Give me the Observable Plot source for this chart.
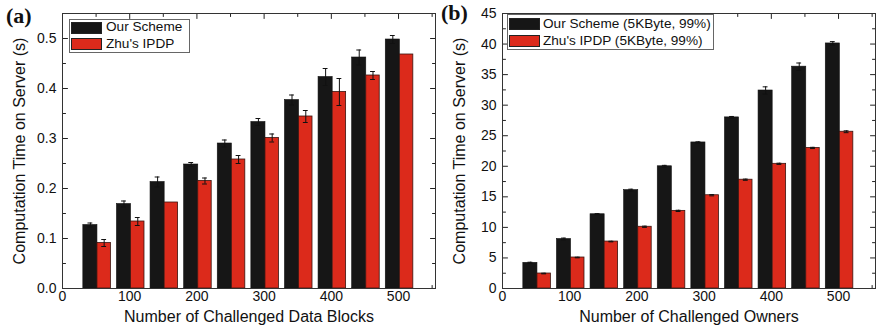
<!DOCTYPE html>
<html><head><meta charset="utf-8">
<script src="https://cdn.jsdelivr.net/npm/d3@7"></script>
<script src="https://cdn.jsdelivr.net/npm/@observablehq/plot@0.6"></script>
<style>
body{margin:0;background:#fff;}
#wrap{position:relative;width:876px;height:333px;display:flex;font-family:"Liberation Sans",Arial,sans-serif;}
.panel{position:relative;}
.tag{position:absolute;z-index:2;font-family:"Liberation Serif","Times New Roman",serif;font-weight:bold;font-size:22px;line-height:22px;color:#111;}
.lbox{position:absolute;border:1px solid #666;background:#fff;box-sizing:border-box;}
.sw{position:absolute;box-sizing:border-box;border:1px solid #222;}
.lt{position:absolute;font-size:13.6px;line-height:16px;color:#111;white-space:nowrap;}
</style></head>
<body><div id="wrap"></div>
<script>
// ---- data ----
const xs = [50, 100, 150, 200, 250, 300, 350, 400, 450, 500];
const oursA    = [0.127, 0.169, 0.213, 0.248, 0.290, 0.333, 0.377, 0.423, 0.462, 0.498];
const oursAErr = [0.004, 0.006, 0.010, 0.004, 0.007, 0.007, 0.010, 0.017, 0.015, 0.008];
const zhuA     = [0.091, 0.134, 0.172, 0.215, 0.258, 0.301, 0.344, 0.393, 0.426, 0.468];
const zhuAErr  = [0.007, 0.008, 0.000, 0.006, 0.008, 0.008, 0.012, 0.027, 0.008, 0.000];
const oursB    = [4.2, 8.1, 12.15, 16.1, 20.0, 23.9, 28.0, 32.4, 36.3, 40.1];
const oursBErr = [0.1, 0.15, 0.1, 0.15, 0.15, 0.1, 0.15, 0.6, 0.6, 0.3];
const zhuB     = [2.45, 5.07, 7.68, 10.1, 12.7, 15.26, 17.8, 20.4, 23.0, 25.65];
const zhuBErr  = [0.05, 0.05, 0.05, 0.1, 0.1, 0.1, 0.1, 0.1, 0.1, 0.15];
const xMajor = [0, 100, 200, 300, 400, 500];
const xMinor = [50, 150, 250, 350, 450, 550];
const yMajorA = [0, 0.1, 0.2, 0.3, 0.4, 0.5];
const yMinorA = [0.05, 0.15, 0.25, 0.35, 0.45, 0.55];
const yMajorB = [0, 5, 10, 15, 20, 25, 30, 35, 40, 45];
const yMinorB = [2.5, 7.5, 12.5, 17.5, 22.5, 27.5, 32.5, 37.5, 42.5];
const yLabel = "Computation Time on Server (s)";
const xLabelA = "Number of Challenged Data Blocks";
const xLabelB = "Number of Challenged Owners";
const seriesA = ["Our Scheme", "Zhu's IPDP"];
const seriesB = ["Our Scheme (5KByte, 99%)", "Zhu's IPDP (5KByte, 99%)"];
const BLACK = "#161616", RED = "#dc2a1b";

const tickShape = {draw(ctx, l) { ctx.moveTo(0, 0); ctx.lineTo(0, -l); }};

function ticks(values, dim, len) {
  const ch = dim === "x" ? {x: d => d} : {y: d => d};
  const sides = dim === "x" ? [["top", 180], ["bottom", 0]] : [["left", 90], ["right", -90]];
  return sides.map(([fa, rot]) => Plot.vector(values, {...ch, frameAnchor: fa, rotate: rot, length: len, anchor: "start", shape: tickShape, stroke: "#222", strokeWidth: 1}));
}

function panel({width, marginRight, yDomain, yMajor, yMinor, yFmt, ours, oursErr, zhu, zhuErr, xLabel}) {
  const dOurs = xs.map((x, i) => ({x, v: ours[i], e: oursErr[i], c: x - 8.5}));
  const dZhu = xs.map((x, i) => ({x, v: zhu[i], e: zhuErr[i], c: x + 12}));
  const errs = [...dOurs, ...dZhu].filter(d => d.e > 0);
  return Plot.plot({
    width, height: 333,
    marginLeft: 62, marginRight, marginTop: 13, marginBottom: 45,
    style: {fontFamily: '"Liberation Sans", Arial, sans-serif', fontSize: "14px", color: "#111", background: "#fff"},
    x: {domain: [0, 555]},
    y: {domain: yDomain},
    marks: [
      ...ticks(xMajor, "x", 5), ...ticks(xMinor, "x", 3),
      ...ticks(yMajor, "y", 5), ...ticks(yMinor, "y", 3),
      Plot.rectY(dOurs, {x1: d => d.x - 19, x2: d => d.x + 2, y: "v", fill: BLACK, stroke: "#111", strokeWidth: 0.6}),
      Plot.rectY(dZhu, {x1: d => d.x + 2, x2: d => d.x + 22, y: "v", fill: RED, stroke: "#3a1510", strokeWidth: 0.8}),
      Plot.ruleX(errs, {x: "c", y1: d => d.v - d.e, y2: d => d.v + d.e, stroke: "#111", strokeWidth: 1}),
      Plot.ruleY(errs, {y: d => d.v + d.e, x1: d => d.c - 3.6, x2: d => d.c + 3.6, stroke: "#111", strokeWidth: 1}),
      Plot.ruleY(errs, {y: d => d.v - d.e, x1: d => d.c - 3.6, x2: d => d.c + 3.6, stroke: "#111", strokeWidth: 1}),
      Plot.axisX({ticks: xMajor, tickSize: 0, tickPadding: 3, label: null, fontSize: 14}),
      Plot.axisY({ticks: yMajor, tickSize: 0, tickPadding: 6, tickFormat: yFmt, label: null, fontSize: 14}),
      Plot.text([xLabel], {frameAnchor: "bottom", textAnchor: "middle", dy: 33, fontSize: 16, text: d => d}),
      Plot.text([yLabel], {frameAnchor: "left", textAnchor: "middle", rotate: -90, dx: -43, fontSize: 16, text: d => d}),
      Plot.frame({stroke: "#333", strokeWidth: 1})
    ]
  });
}

function addLegend(div, box, names, swX, swY, txtX, txtY) {
  const b = document.createElement("div");
  b.className = "lbox";
  Object.assign(b.style, {left: box[0] + "px", top: box[1] + "px", width: box[2] + "px", height: box[3] + "px"});
  div.appendChild(b);
  [BLACK, RED].forEach((col, i) => {
    const s = document.createElement("div");
    s.className = "sw";
    Object.assign(s.style, {left: swX[0] + "px", top: swY[i] + "px", width: swX[1] + "px", height: "12px", background: col});
    div.appendChild(s);
    const t = document.createElement("div");
    t.className = "lt";
    t.textContent = names[i];
    Object.assign(t.style, {left: txtX + "px", top: txtY[i] + "px"});
    div.appendChild(t);
  });
}

const wrap = document.getElementById("wrap");
const pa = document.createElement("div"); pa.className = "panel"; pa.style.width = "440px";
const pb = document.createElement("div"); pb.className = "panel"; pb.style.width = "436px";
wrap.appendChild(pa); wrap.appendChild(pb);

pa.appendChild(panel({width: 440, marginRight: 5, yDomain: [0, 0.55], yMajor: yMajorA, yMinor: yMinorA, yFmt: d3.format(".1f"),
  ours: oursA, oursErr: oursAErr, zhu: zhuA, zhuErr: zhuAErr, xLabel: xLabelA}));
pb.appendChild(panel({width: 436, marginRight: 1, yDomain: [0, 45], yMajor: yMajorB, yMinor: yMinorB, yFmt: d3.format("d"),
  ours: oursB, oursErr: oursBErr, zhu: zhuB, zhuErr: zhuBErr, xLabel: xLabelB}));

const ta = document.createElement("div"); ta.className = "tag"; ta.textContent = "(a)";
Object.assign(ta.style, {left: "6px", top: "5px"}); pa.appendChild(ta);
const tb = document.createElement("div"); tb.className = "tag"; tb.textContent = "(b)";
Object.assign(tb.style, {left: "1px", top: "1.5px"}); pb.appendChild(tb);

addLegend(pa, [69, 19, 121, 34], seriesA, [71, 31], [22, 38], 106, [19, 36]);
addLegend(pb, [67, 14, 207, 36], seriesB, [69, 31], [18, 35], 103, [16, 33]);
</script></body></html>
